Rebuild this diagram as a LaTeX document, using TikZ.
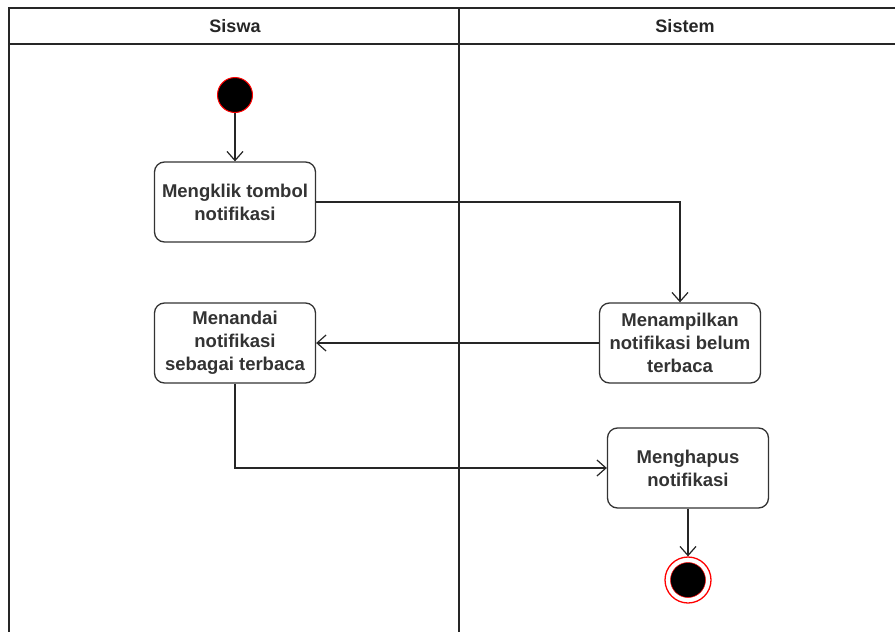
\documentclass[tikz,border=0pt]{standalone}
\usepackage{fontspec}
\setmainfont{Liberation Sans}
\usetikzlibrary{arrows.meta}
\begin{document}
\begin{tikzpicture}[x=1pt,y=-1pt,
  lane/.style={draw=black!85, line width=1.8pt},
  action/.style={draw=black!80, line width=1.3pt, rounded corners=10pt, fill=white,
    minimum width=161pt, minimum height=80pt, align=center,
    font=\bfseries\fontsize{18.5}{23}\selectfont, text=black!80},
  flow/.style={draw=black!85, line width=1.2pt, -{Straight Barb[length=9pt,width=16pt,line width=1.2pt]}},
  lanetitle/.style={font=\bfseries\fontsize{18}{22}\selectfont, text=black!85}
]
\useasboundingbox (0,0) rectangle (895,632);
% swimlane frame
\draw[lane] (9,632) -- (9,8) -- (897,8);
\draw[lane] (9,44) -- (897,44);
\draw[lane] (459,8) -- (459,632);
\node[lanetitle] (siswa) at (235,26) {Siswa};
\node[lanetitle] (sistem) at (685,26) {Sistem};

% initial state
\node[circle, fill=black, draw=red, line width=1pt, minimum size=35pt, inner sep=0pt] (start) at (235,95) {};
% actions
\node[action] (klik) at (235,202) {Mengklik tombol\\notifikasi};
\node[action] (tampil) at (680,343) {Menampilkan\\notifikasi belum\\terbaca};
\node[action] (tandai) at (235,343) {Menandai\\notifikasi\\sebagai terbaca};
\node[action] (hapus) at (688,468) {Menghapus\\notifikasi};
% final state
\node[circle, draw=red, line width=1.3pt, fill=white, minimum size=46pt, inner sep=0pt] (end) at (688,580) {};
\node[circle, fill=black, draw=red, line width=0.5pt, minimum size=35pt, inner sep=0pt] (endin) at (688,580) {};

% control flow
\draw[flow] (start) -- (klik);
\draw[flow] (klik.east) -| (tampil.north);
\draw[flow] (tampil.west) -- (tandai.east);
\draw[flow] (tandai.south) |- (hapus.west);
\draw[flow] (hapus.south) -- (end.north);
\end{tikzpicture}
\end{document}
